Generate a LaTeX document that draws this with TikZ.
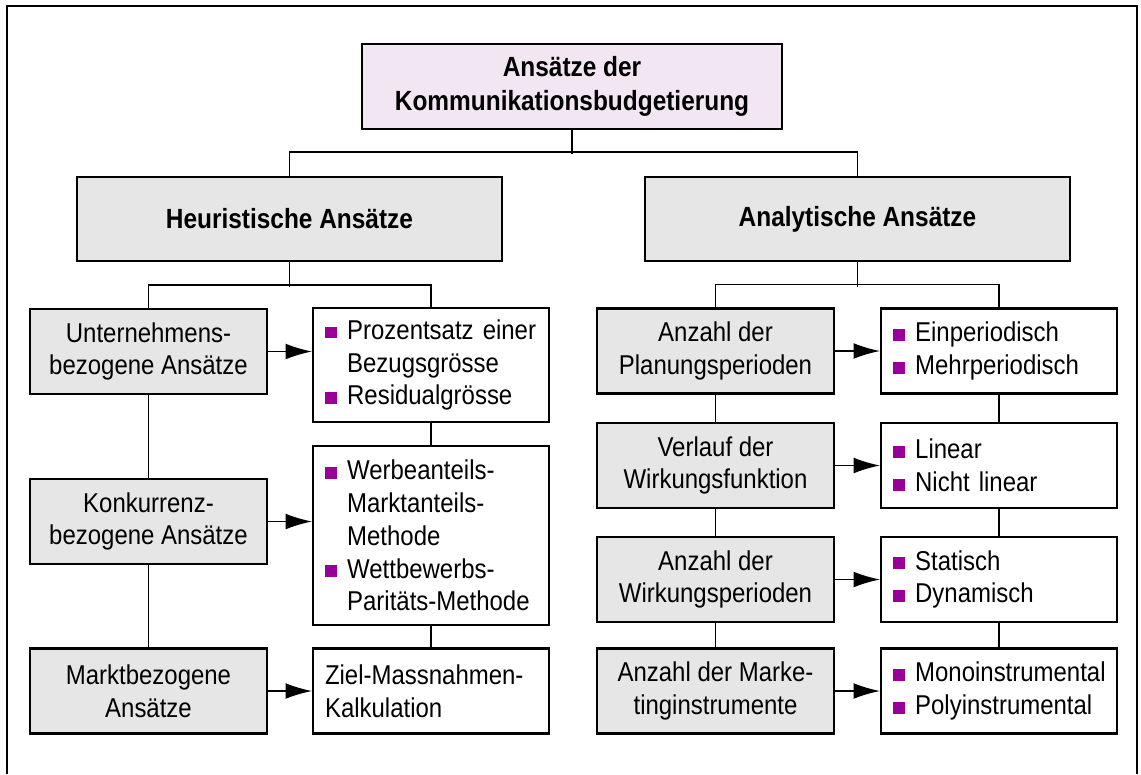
\documentclass[tikz,border=0pt]{standalone}
\usepackage{fontspec}
\setmainfont{Liberation Sans}[FakeStretch=0.88]
\usepackage{xcolor}
\usepackage{tikz}
\usetikzlibrary{
  arrows.meta,
  positioning,
  calc
}
\definecolor{kbTop}{HTML}{F3E6F3}
\definecolor{kbGray}{HTML}{E6E6E6}
\definecolor{kbBullet}{HTML}{990099}
% purple square bullet and hanging indent for list boxes
\newcommand\pkt{\makebox[12.6pt][l]{\textcolor{kbBullet}{\rule[0.4pt]{6.8pt}{6.8pt}}}}
\newcommand\weiter{\hspace*{12.6pt}}
\tikzset{
  kbnode/.style={
    draw, line width=1.3pt, minimum width=4.74cm, minimum height=1.7cm,
    font=\fontsize{15.5}{18.7}\selectfont, align=center, inner sep=0pt
  },
  topbox/.style={kbnode, fill=kbTop, minimum width=8.4cm, font=\fontsize{15.8}{19}\selectfont\bfseries},
  headbox/.style={kbnode, fill=kbGray, minimum width=8.5cm, minimum height=1.68cm, font=\fontsize{15.8}{19}\selectfont\bfseries},
  graybox/.style={kbnode, fill=kbGray},
  listbox/.style={kbnode, fill=white, minimum width=4.72cm, text width=4.24cm, inner xsep=0.24cm, align=left},
  verbind/.style={line width=0.75pt},
  pfeil/.style={line width=0.75pt, -{Latex[length=15pt, width=9pt]}},
  rahmen/.style={line width=1.3pt}
}

\begin{document}
\begin{tikzpicture}[x=0.02cm, y=-0.02cm]
  \useasboundingbox (0,0) rectangle (1141,774);
  \draw[rahmen] (7,774) -- (7,6) -- (1137,6) -- (1137,774);

  % top level
  \node[topbox] (top) at (572,86.5) {Ansätze der\\Kommunikationsbudgetierung};
  \node[headbox] (heur) at (289.5,219) {Heuristische Ansätze};
  \node[headbox] (ana) at (857.5,219) {Analytische Ansätze};

  % heuristic side
  \node[graybox] (unt) at (148.5,351.5) {Unternehmens-\\bezogene Ansätze};
  \node[graybox] (konk) at (148.5,521.5) {Konkurrenz-\\bezogene Ansätze};
  \node[graybox] (markt) at (148.5,691) {Marktbezogene\\Ansätze};
  \node[listbox, minimum height=2.28cm] (proz) at (431,365) {\pkt Prozentsatz einer\\\weiter Bezugsgrösse\\\pkt Residualgrösse};
  \node[listbox, minimum height=3.58cm] (werb) at (431,535.5) {\pkt Werbeanteils-\\\weiter Marktanteils-\\\weiter Methode\\\pkt Wettbewerbs-\\\weiter Paritäts-Methode};
  \node[listbox] (ziel) at (431,691) {Ziel-Massnahmen-\\Kalkulation};

  % analytic side
  \node[graybox] (plan) at (715.5,351) {Anzahl der\\Planungsperioden};
  \node[graybox] (verl) at (715.5,465.5) {Verlauf der\\Wirkungsfunktion};
  \node[graybox] (wirk) at (715.5,579.5) {Anzahl der\\Wirkungsperioden};
  \node[graybox] (mkt) at (715.5,691) {Anzahl der Marke-\\tinginstrumente};
  \node[listbox] (ein) at (999,351) {\pkt Einperiodisch\\\pkt Mehrperiodisch};
  \node[listbox] (lin) at (999,465.5) {\pkt Linear\\\pkt Nicht linear};
  \node[listbox] (stat) at (999,579.5) {\pkt Statisch\\\pkt Dynamisch};
  \node[listbox] (mono) at (999,691) {\pkt Monoinstrumental\\\pkt Polyinstrumental};

  % tree lines
  \draw[verbind] (top.south) -- ++(0,24);
  \draw[verbind] (heur.north) -- ++(0,-24) -| (ana.north);
  \draw[verbind] (heur.south) -- ++(0,25);
  \draw[verbind] (unt.north) -- ++(0,-23) -| (proz.north);
  \draw[verbind] (ana.south) -- ++(0,25);
  \draw[verbind] (plan.north) -- ++(0,-23) -| (ein.north);

  % columns
  \draw[verbind] (unt.south) -- (konk.north);
  \draw[verbind] (konk.south) -- (markt.north);
  \draw[verbind] (proz.south) -- (werb.north);
  \draw[verbind] (werb.south) -- (ziel.north);
  \draw[verbind] (plan.south) -- (verl.north);
  \draw[verbind] (verl.south) -- (wirk.north);
  \draw[verbind] (wirk.south) -- (mkt.north);
  \draw[verbind] (ein.south) -- (lin.north);
  \draw[verbind] (lin.south) -- (stat.north);
  \draw[verbind] (stat.south) -- (mono.north);

  % arrows
  \draw[pfeil] (unt.east) -- (unt.east -| proz.west);
  \draw[pfeil] (konk.east) -- (konk.east -| werb.west);
  \draw[pfeil] (markt.east) -- (ziel.west);
  \draw[pfeil] (plan.east) -- (ein.west);
  \draw[pfeil] (verl.east) -- (lin.west);
  \draw[pfeil] (wirk.east) -- (stat.west);
  \draw[pfeil] (mkt.east) -- (mono.west);
\end{tikzpicture}
\end{document}
